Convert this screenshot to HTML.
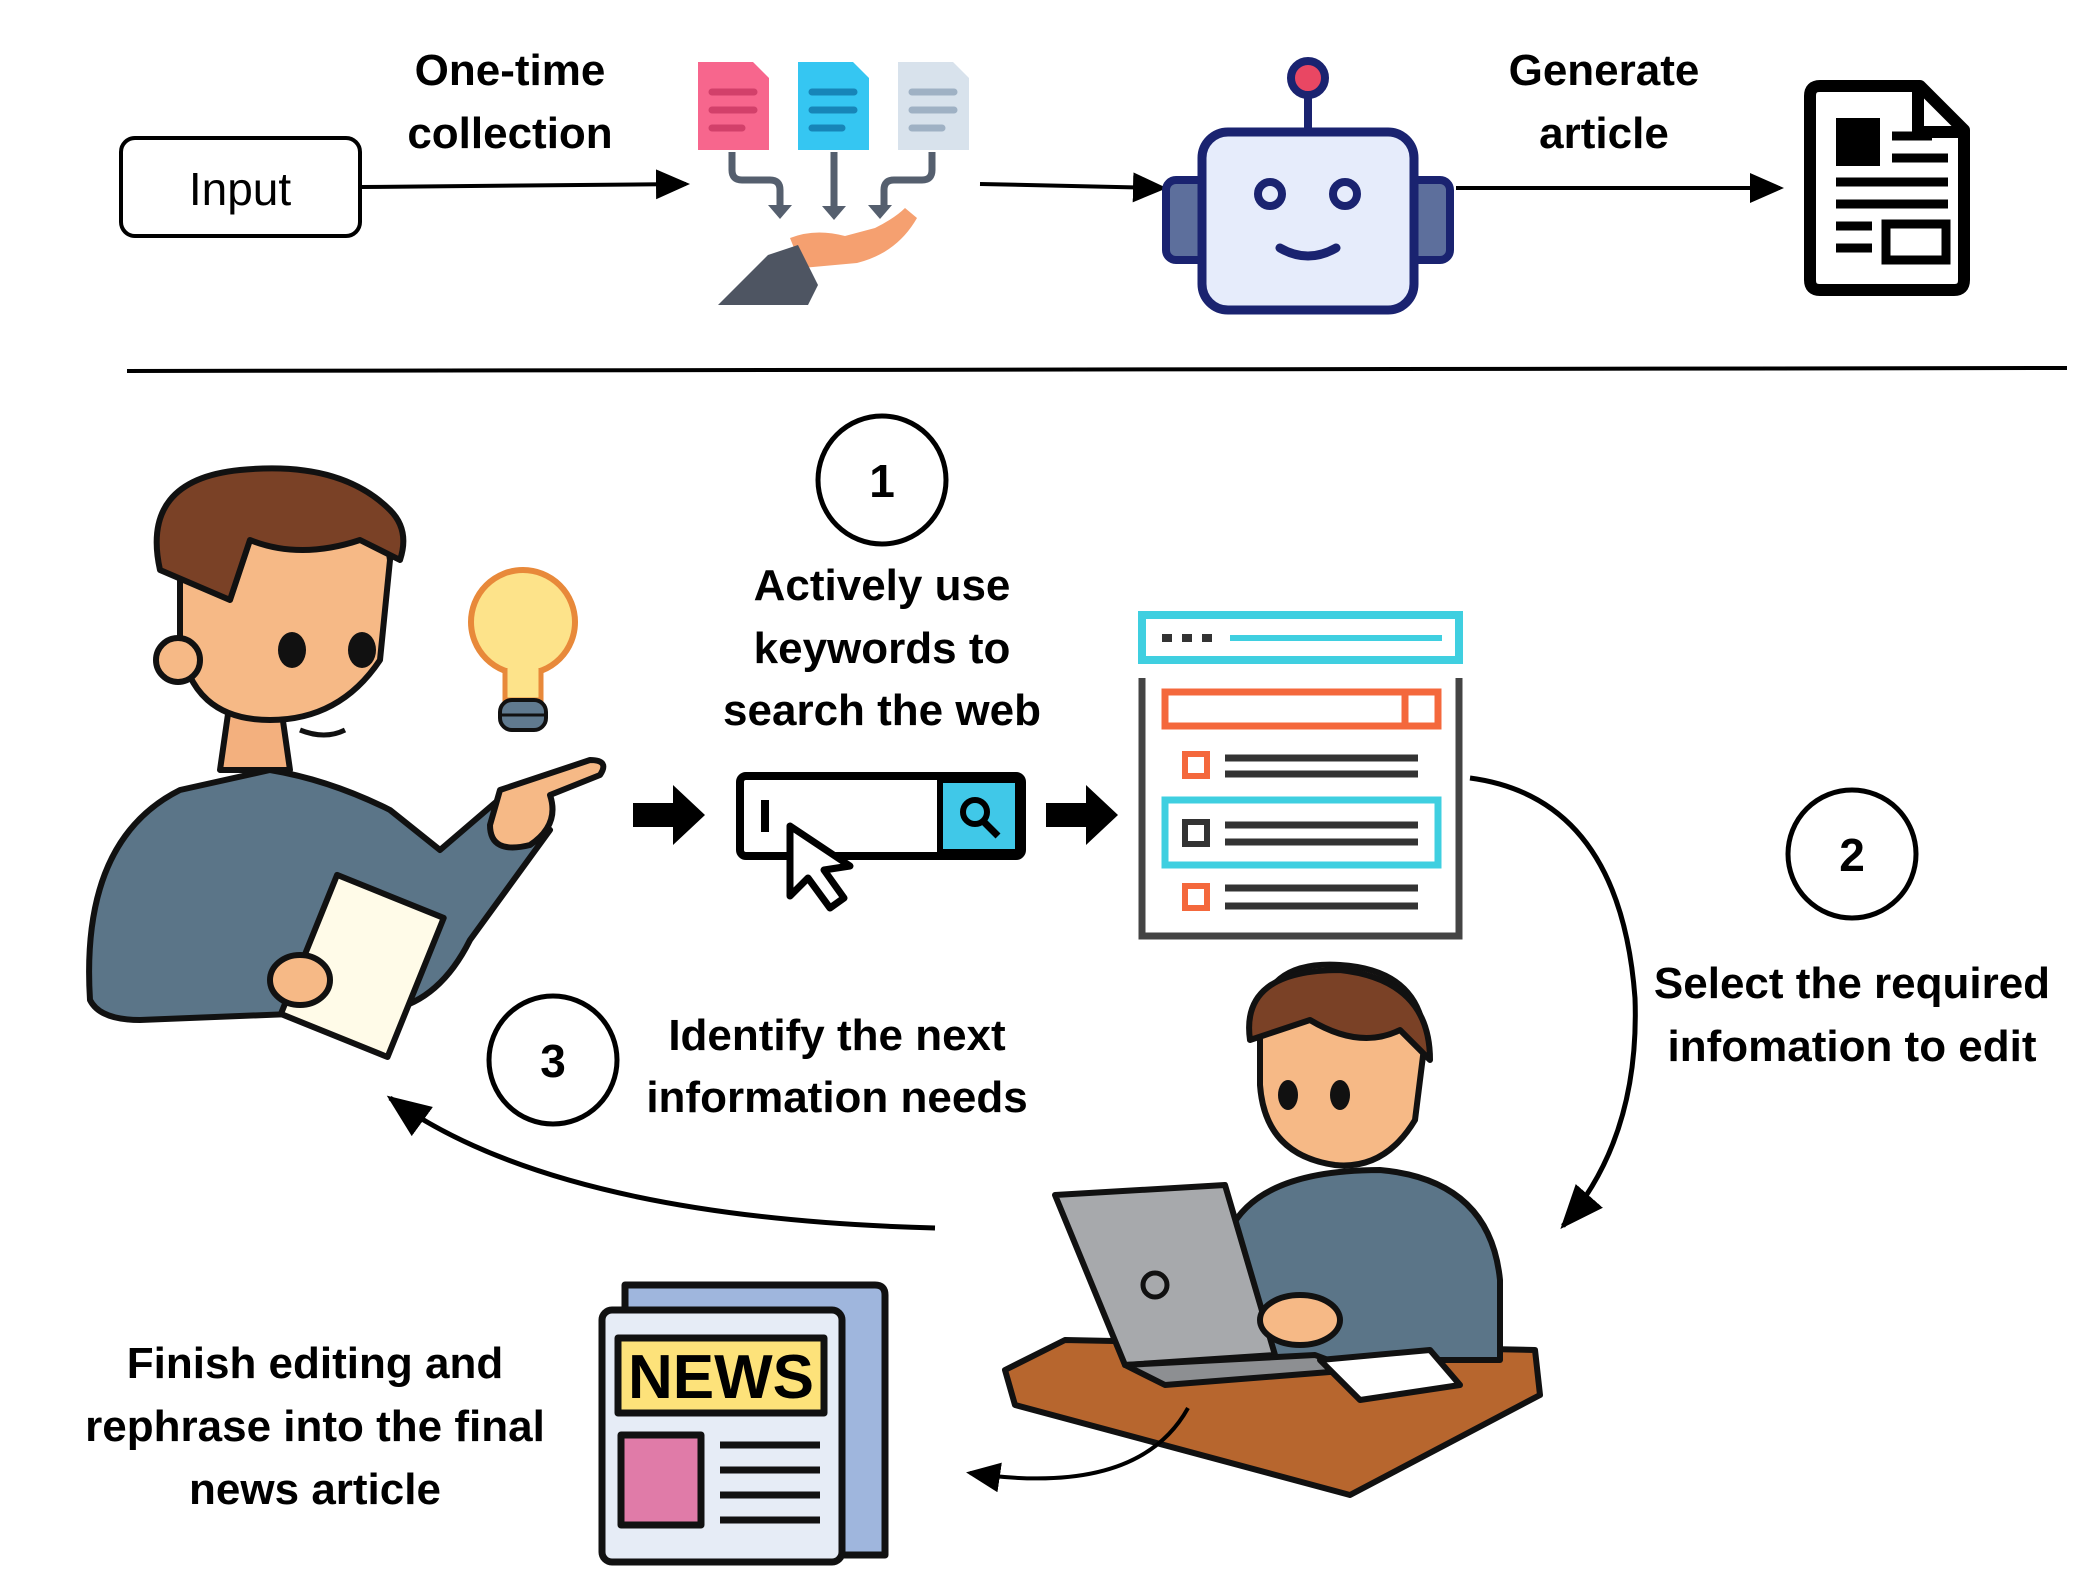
<!DOCTYPE html>
<html><head><meta charset="utf-8"><style>
html,body{margin:0;padding:0;background:#fff;}
svg{display:block}
text{font-family:"Liberation Sans",sans-serif;font-weight:bold;fill:#000}
</style></head><body>
<svg width="2094" height="1574" viewBox="0 0 2094 1574" xmlns="http://www.w3.org/2000/svg">
<defs>
<marker id="ah2" markerWidth="44" markerHeight="44" refX="40" refY="22" orient="auto" markerUnits="userSpaceOnUse" viewBox="0 0 44 44"><path d="M0,4 L44,22 L0,40 z" fill="#000"/></marker>
<marker id="ah3" markerWidth="34" markerHeight="30" refX="30" refY="15" orient="auto" markerUnits="userSpaceOnUse" viewBox="0 0 34 30"><path d="M0,0 L34,15 L0,30 z" fill="#000"/></marker>
</defs>

<rect x="121" y="138" width="239" height="98" rx="14" fill="#fff" stroke="#000" stroke-width="4"/>
<text x="240" y="205" font-size="46" text-anchor="middle" style="font-weight:normal">Input</text>
<text x="510" y="85" font-size="44" text-anchor="middle">One-time</text>
<text x="510" y="148" font-size="44" text-anchor="middle">collection</text>
<line x1="362" y1="187" x2="686" y2="184" stroke="#000" stroke-width="4" marker-end="url(#ah3)"/>

<g>
<path d="M698 62 h55 l16 16 v72 h-71z" fill="#f7668d"/>
<path d="M798 62 h55 l16 16 v72 h-71z" fill="#35c6f2"/>
<path d="M898 62 h55 l16 16 v72 h-71z" fill="#d8e2ec"/>
<g stroke-width="7" stroke-linecap="round">
<path d="M712 92h42M712 110h42M712 128h30" stroke="#d2406a"/>
<path d="M812 92h42M812 110h42M812 128h30" stroke="#1785b8"/>
<path d="M912 92h42M912 110h42M912 128h30" stroke="#9fb1c4"/>
</g>
<g fill="none" stroke="#555f6e" stroke-width="7">
<path d="M732 152 v18 q0 10 10 10 h28 q10 0 10 10 v20"/>
<path d="M834 152 v60"/>
<path d="M932 152 v18 q0 10 -10 10 h-28 q-10 0 -10 10 v20"/>
</g>
<path d="M768 205 l12 14 l12-14z M822 206 l12 14 l12-14z M868 205 l12 14 l12-14z" fill="#555f6e"/>
<path d="M790 238 q25-10 55-2 l30-8 q20-10 30-20 l12 10 q-20 35-60 45 l-55 5z" fill="#f5a070"/>
<path d="M718 305 l50-50 l30 -10 l20 40 l-10 20z" fill="#4e5562"/>
</g>

<line x1="980" y1="184" x2="1163" y2="188" stroke="#000" stroke-width="4" marker-end="url(#ah3)"/>

<g>
<line x1="1308" y1="80" x2="1308" y2="132" stroke="#1a2370" stroke-width="8"/>
<circle cx="1308" cy="78" r="17" fill="#e94763" stroke="#1a2370" stroke-width="8"/>
<rect x="1166" y="180" width="42" height="80" rx="10" fill="#5d6f9c" stroke="#1a2370" stroke-width="8"/>
<rect x="1408" y="180" width="42" height="80" rx="10" fill="#5d6f9c" stroke="#1a2370" stroke-width="8"/>
<rect x="1202" y="132" width="212" height="178" rx="26" fill="#e6ecfb" stroke="#1a2370" stroke-width="9"/>
<circle cx="1270" cy="194" r="12" fill="none" stroke="#1a2370" stroke-width="8"/>
<circle cx="1345" cy="194" r="12" fill="none" stroke="#1a2370" stroke-width="8"/>
<path d="M1280 248 q28 16 56 0" fill="none" stroke="#1a2370" stroke-width="9" stroke-linecap="round"/>
</g>

<text x="1604" y="85" font-size="44" text-anchor="middle">Generate</text>
<text x="1604" y="148" font-size="44" text-anchor="middle">article</text>
<line x1="1456" y1="188" x2="1780" y2="188" stroke="#000" stroke-width="4" marker-end="url(#ah3)"/>

<g>
<path d="M1820 86 h100 l44 44 v150 q0 10 -10 10 h-134 q-10 0 -10-10 v-184 q0-10 10-10z" fill="#fff" stroke="#000" stroke-width="12" stroke-linejoin="round"/>
<path d="M1918 86 v46 h46" fill="none" stroke="#000" stroke-width="12"/>
<rect x="1836" y="118" width="44" height="48" fill="#000"/>
<path d="M1892 136h40 M1892 158h56 M1836 182h112 M1836 204h112 M1836 226h36 M1836 248h36" stroke="#000" stroke-width="9"/>
<rect x="1886" y="224" width="60" height="36" fill="none" stroke="#000" stroke-width="9"/>
</g>

<line x1="127" y1="371" x2="2067" y2="368" stroke="#000" stroke-width="4"/>

<circle cx="882" cy="480" r="64" fill="#fff" stroke="#000" stroke-width="5"/>
<text x="882" y="497" font-size="46" text-anchor="middle">1</text>
<text x="882" y="600" font-size="44" text-anchor="middle">Actively use</text>
<text x="882" y="663" font-size="44" text-anchor="middle">keywords to</text>
<text x="882" y="725" font-size="44" text-anchor="middle">search the web</text>

<g stroke="#111" stroke-width="6" stroke-linejoin="round">
<path d="M90 1000 q-10-160 90-210 l90-20 q60 10 120 40 l50 40 l70-60 l40 40 l-80 110 q-30 60 -80 70 l-250 10 q-40 0 -50-20z" fill="#5b7588"/>
<path d="M230 700 l-10 70 l70 0 l-10-70z" fill="#f3b07e"/>
<path d="M180 560 q-10 -80 80-80 q120 0 130 80 l-10 100 q-40 60 -110 60 q-80 0 -90-80z" fill="#f6b986"/>
<path d="M160 570 q-20-90 80-100 q100-10 150 40 q20 20 10 50 l-40-20 q-60 20 -110 0 l-20 60 z" fill="#7a4126"/>
<circle cx="178" cy="660" r="22" fill="#f6b986"/>
<rect x="305" y="890" width="115" height="150" fill="#fffbe8" transform="rotate(22 360 965)"/>
<path d="M500 790 l90-30 q20 0 10 15 l-50 20 q10 30 -20 50 q-40 10 -40-20z" fill="#f6b986"/>
<ellipse cx="300" cy="980" rx="30" ry="25" fill="#f6b986"/>
</g>
<g fill="#111"><ellipse cx="292" cy="650" rx="14" ry="18"/><ellipse cx="362" cy="650" rx="14" ry="18"/></g>
<path d="M300 730 q25 10 45 0" stroke="#111" stroke-width="5" fill="none"/>
<path d="M508 690 v-30 l8 10 l8-10 l8 10 l8-10 v30" fill="none" stroke="#e8893a" stroke-width="4"/>
<circle cx="523" cy="622" r="52" fill="#fde38a" stroke="#e8893a" stroke-width="6"/>
<path d="M505 668 v32 h36 v-32" fill="#fde38a" stroke="#e8893a" stroke-width="5"/>
<rect x="500" y="700" width="46" height="30" rx="12" fill="#607a8f" stroke="#111" stroke-width="4"/>
<line x1="502" y1="715" x2="544" y2="715" stroke="#111" stroke-width="3"/>

<path d="M633 803 h40 v-18 l32 30 l-32 30 v-18 h-40z" fill="#000"/>
<path d="M1046 803 h40 v-18 l32 30 l-32 30 v-18 h-40z" fill="#000"/>

<rect x="740" y="776" width="282" height="80" rx="6" fill="#fff" stroke="#000" stroke-width="8"/>
<rect x="940" y="780" width="78" height="72" fill="#40c8e8" stroke="#000" stroke-width="6"/>
<circle cx="975" cy="812" r="12" fill="none" stroke="#000" stroke-width="6"/>
<line x1="984" y1="822" x2="998" y2="836" stroke="#000" stroke-width="7"/>
<line x1="765" y1="800" x2="765" y2="832" stroke="#000" stroke-width="8"/>
<path d="M790 826 l0 70 l18-18 l22 30 l14-10 l-20-28 l26-4z" fill="#fff" stroke="#000" stroke-width="7" stroke-linejoin="round"/>

<g>
<rect x="1142" y="615" width="317" height="45" fill="#fff" stroke="#3fcfe0" stroke-width="8"/>
<path d="M1162 638h10M1182 638h10M1202 638h10" stroke="#333" stroke-width="8"/>
<path d="M1230 638 h212" stroke="#3fcfe0" stroke-width="6"/>
<path d="M1142 678 v258 h317 v-258" fill="none" stroke="#444" stroke-width="7"/>
<rect x="1165" y="692" width="273" height="34" fill="#fff" stroke="#f4683c" stroke-width="7"/>
<path d="M1405 692 v34" stroke="#f4683c" stroke-width="7"/>
<rect x="1185" y="754" width="22" height="22" fill="none" stroke="#f4683c" stroke-width="6"/>
<path d="M1225 758h193M1225 774h193" stroke="#333" stroke-width="7"/>
<rect x="1165" y="800" width="273" height="65" fill="#fff" stroke="#3fcfe0" stroke-width="7"/>
<rect x="1185" y="822" width="22" height="22" fill="none" stroke="#333" stroke-width="6"/>
<path d="M1225 825h193M1225 842h193" stroke="#333" stroke-width="7"/>
<rect x="1185" y="886" width="22" height="22" fill="none" stroke="#f4683c" stroke-width="6"/>
<path d="M1225 888h193M1225 906h193" stroke="#333" stroke-width="7"/>
</g>

<path d="M1470 778 q150 20 165 220 q5 140 -72 228" fill="none" stroke="#000" stroke-width="5" marker-end="url(#ah2)"/>
<circle cx="1852" cy="854" r="64" fill="#fff" stroke="#000" stroke-width="5"/>
<text x="1852" y="871" font-size="46" text-anchor="middle">2</text>
<text x="1852" y="998" font-size="44" text-anchor="middle">Select the required</text>
<text x="1852" y="1061" font-size="44" text-anchor="middle">infomation to edit</text>

<g stroke="#111" stroke-width="6" stroke-linejoin="round">
<path d="M1005 1370 l60-30 l470 10 l5 45 l-190 100 l-335-90z" fill="#b7662e"/>
<path d="M1230 1230 q30-60 150-60 q110 10 120 110 l0 80 l-250 0z" fill="#5b7588"/>
<path d="M1260 1030 q0-70 80-65 q80 5 85 75 l-10 80 q-30 50 -80 45 q-70-10 -75-80z" fill="#f6b986"/>
<path d="M1250 1040 q-10-70 90-70 q90 10 90 90 l-30 -30 q-40 20 -90 -10 q-30 10 -60 20z" fill="#7a4126"/>
<path d="M1055 1195 l170-10 l50 170 l-150 10z" fill="#a7a9ac"/>
<path d="M1125 1365 l190-10 l40 15 l-190 15z" fill="#8d8f92"/>
<path d="M1320 1360 l110-10 l30 35 l-100 15z" fill="#fff"/>
<ellipse cx="1300" cy="1320" rx="40" ry="25" fill="#f6b986"/>
</g>
<circle cx="1155" cy="1285" r="12" fill="none" stroke="#111" stroke-width="5"/>
<g fill="#111"><ellipse cx="1288" cy="1095" rx="10" ry="15"/><ellipse cx="1340" cy="1095" rx="10" ry="15"/></g>

<path d="M935 1228 q-380 -10 -545 -130" fill="none" stroke="#000" stroke-width="5" marker-end="url(#ah2)"/>
<circle cx="553" cy="1060" r="64" fill="#fff" stroke="#000" stroke-width="5"/>
<text x="553" y="1077" font-size="46" text-anchor="middle">3</text>
<text x="837" y="1050" font-size="44" text-anchor="middle">Identify the next</text>
<text x="837" y="1112" font-size="44" text-anchor="middle">information needs</text>

<path d="M1188 1408 q-50 90 -218 65" fill="none" stroke="#000" stroke-width="4" marker-end="url(#ah3)"/>

<g stroke="#111" stroke-width="7" stroke-linejoin="round">
<path d="M625 1285 h250 q10 0 10 10 v260 h-260z" fill="#9fb6dd"/>
<rect x="602" y="1310" width="240" height="252" rx="10" fill="#e6ecf6"/>
<rect x="618" y="1338" width="206" height="75" fill="#fde27a"/>
<rect x="621" y="1435" width="80" height="90" fill="#e07ba8"/>
<path d="M720 1445h100M720 1470h100M720 1495h100M720 1520h100" />
</g>
<text x="721" y="1398" font-size="62" text-anchor="middle">NEWS</text>

<text x="315" y="1378" font-size="44" text-anchor="middle">Finish editing and</text>
<text x="315" y="1441" font-size="44" text-anchor="middle">rephrase into the final</text>
<text x="315" y="1504" font-size="44" text-anchor="middle">news article</text>
</svg>
</body></html>
